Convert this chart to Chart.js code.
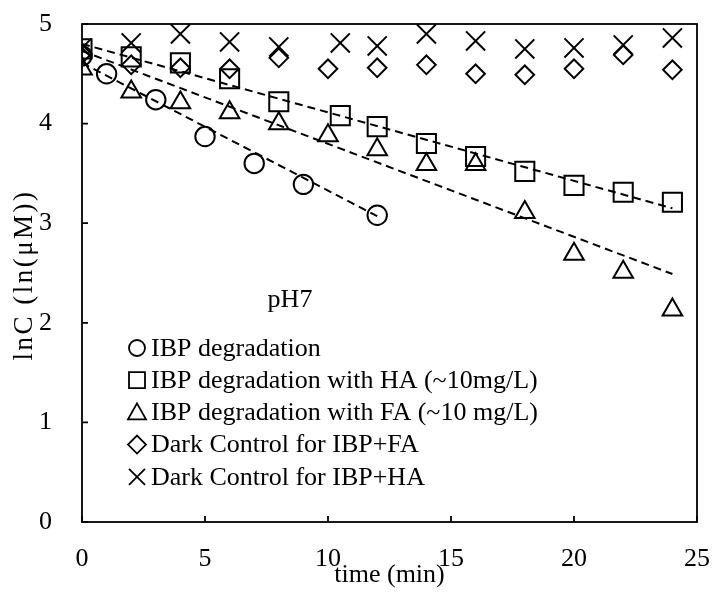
<!DOCTYPE html>
<html>
<head>
<meta charset="utf-8">
<script src="https://cdn.jsdelivr.net/npm/chart.js@4.4.1/dist/chart.umd.min.js"></script>
<style>
  html, body { margin: 0; padding: 0; background: #fff; }
  #wrap { width: 713px; height: 595px; }
</style>
</head>
<body>
<div id="wrap"><canvas id="chart"></canvas></div>
<script>
// values (time in min, lnC in ln(uM))
const ibpTime = [0, 1, 3, 5, 7, 9, 12];
const ibpLnC = [4.68, 4.50, 4.24, 3.87, 3.60, 3.39, 3.08];

const haTime = [0, 2, 4, 6, 8, 10.5, 12, 14, 16, 18, 20, 22, 24];
const haLnC = [4.75, 4.67, 4.61, 4.45, 4.22, 4.08, 3.97, 3.80, 3.67, 3.52, 3.38, 3.31, 3.21];

const faTime = [0, 2, 4, 6, 8, 10, 12, 14, 16, 18, 20, 22, 24];
const faLnC = [4.55, 4.32, 4.21, 4.11, 4.00, 3.88, 3.74, 3.59, 3.59, 3.11, 2.69, 2.51, 2.13];

const darkFaTime = [0, 2, 4, 6, 8, 10, 12, 14, 16, 18, 20, 22, 24];
const darkFaLnC = [4.70, 4.59, 4.56, 4.55, 4.66, 4.55, 4.56, 4.59, 4.50, 4.49, 4.55, 4.69, 4.54];

const darkHaTime = [0, 2, 4, 6, 8, 10.5, 12, 14, 16, 18, 20, 22, 24];
const darkHaLnC = [4.76, 4.81, 4.90, 4.82, 4.77, 4.81, 4.78, 4.90, 4.83, 4.75, 4.76, 4.79, 4.86];

// dashed linear trendlines (end points)
const fitIbpTime = [0, 12];
const fitIbpLnC = [4.61, 3.07];
const fitHaTime = [0, 24];
const fitHaLnC = [4.80, 3.15];
const fitFaTime = [0, 24];
const fitFaLnC = [4.73, 2.49];

const xTicks = [0, 5, 10, 15, 20, 25];
const yTicks = [0, 1, 2, 3, 4, 5];

const seriesLabels = [
  'IBP degradation',
  'IBP degradation with HA (~10mg/L)',
  'IBP degradation with FA (~10 mg/L)',
  'Dark Control for IBP+FA',
  'Dark Control for IBP+HA'
];
const noteText = 'pH7';
const yTitle = 'lnC (ln(μM))';

const FONT = '"Liberation Serif", "Times New Roman", serif';

function pts(xs, ys) {
  return xs.map((x, i) => ({ x: x, y: ys[i] }));
}

function markerSet(label, xs, ys, style, radius) {
  return {
    label: label,
    data: pts(xs, ys),
    showLine: false,
    pointStyle: style,
    pointRadius: radius,
    pointBorderColor: '#000',
    pointBackgroundColor: 'rgba(0,0,0,0)',
    pointBorderWidth: 2,
    isMarker: true
  };
}

function fitSet(xs, ys) {
  return {
    label: '',
    data: pts(xs, ys),
    showLine: true,
    borderColor: '#000',
    borderWidth: 2,
    borderDash: [8, 5],
    pointRadius: 0,
    fill: false
  };
}

const datasets = [
  fitSet(fitIbpTime, fitIbpLnC),
  fitSet(fitHaTime, fitHaLnC),
  fitSet(fitFaTime, fitFaLnC),
  markerSet(seriesLabels[0], ibpTime, ibpLnC, 'circle', 9.7),
  markerSet(seriesLabels[1], haTime, haLnC, 'rect', 13.5),
  markerSet(seriesLabels[2], faTime, faLnC, 'triangle', 11.3),
  markerSet(seriesLabels[3], darkFaTime, darkFaLnC, 'rectRot', 9.3),
  markerSet(seriesLabels[4], darkHaTime, darkHaLnC, 'crossRot', 13.5)
];

function drawLegendMarker(ctx, style, x, y) {
  ctx.beginPath();
  if (style === 'circle') {
    ctx.arc(x, y, 8, 0, Math.PI * 2);
  } else if (style === 'rect') {
    ctx.rect(x - 8, y - 8, 16, 16);
  } else if (style === 'triangle') {
    ctx.moveTo(x, y - 9);
    ctx.lineTo(x + 9, y + 7);
    ctx.lineTo(x - 9, y + 7);
    ctx.closePath();
  } else if (style === 'rectRot') {
    ctx.moveTo(x, y - 9);
    ctx.lineTo(x + 9, y);
    ctx.lineTo(x, y + 9);
    ctx.lineTo(x - 9, y);
    ctx.closePath();
  } else if (style === 'crossRot') {
    ctx.moveTo(x - 8, y - 8);
    ctx.lineTo(x + 8, y + 8);
    ctx.moveTo(x + 8, y - 8);
    ctx.lineTo(x - 8, y + 8);
  }
  ctx.stroke();
}

const framePlugin = {
  id: 'frame',
  afterDraw(chart) {
    const ctx = chart.ctx;
    const a = chart.chartArea;
    const xs = chart.scales.x;
    const ys = chart.scales.y;
    ctx.save();
    ctx.strokeStyle = '#000';
    ctx.lineWidth = 1.8;
    ctx.strokeRect(a.left, a.top, a.right - a.left, a.bottom - a.top);
    // inward tick marks
    ctx.beginPath();
    xTicks.forEach((t) => {
      const px = xs.getPixelForValue(t);
      ctx.moveTo(px, a.bottom);
      ctx.lineTo(px, a.bottom - 6);
    });
    yTicks.forEach((t) => {
      const py = ys.getPixelForValue(t);
      ctx.moveTo(a.left, py);
      ctx.lineTo(a.left + 6, py);
    });
    ctx.stroke();

    ctx.fillStyle = '#000';
    // y axis title, a little wider spaced like the original
    ctx.save();
    ctx.translate(25, (a.top + a.bottom) / 2 + 2);
    ctx.rotate(-Math.PI / 2);
    ctx.font = '27px ' + FONT;
    ctx.textAlign = 'center';
    ctx.textBaseline = 'middle';
    ctx.letterSpacing = '2.5px';
    ctx.fillText(yTitle, 0, 0);
    ctx.restore();

    // in-plot legend and note
    ctx.font = '26px ' + FONT;
    ctx.textBaseline = 'middle';
    ctx.textAlign = 'center';
    ctx.fillText(noteText, 290, 300);
    ctx.textAlign = 'left';
    ctx.lineWidth = 1.8;
    const markers = chart.data.datasets.filter((d) => d.isMarker);
    markers.forEach((d, i) => {
      const y = 348 + i * 32.2;
      drawLegendMarker(ctx, d.pointStyle, 137, y);
      ctx.fillText(d.label, 151, y + 1);
    });
    ctx.restore();
  }
};

new Chart(document.getElementById('chart'), {
  type: 'scatter',
  data: { datasets: datasets },
  options: {
    responsive: true,
    maintainAspectRatio: false,
    animation: false,
    layout: { autoPadding: false, padding: { top: 24, right: 16, left: 0, bottom: 0 } },
    plugins: {
      legend: { display: false },
      tooltip: { enabled: false }
    },
    scales: {
      x: {
        type: 'linear',
        min: 0,
        max: 25,
        afterBuildTicks: (s) => { s.ticks = xTicks.map((v) => ({ value: v })); },
        afterFit: (s) => { s.height = 73; s.paddingLeft = 0; s.paddingRight = 0; },
        grid: { display: false },
        border: { display: false },
        ticks: { color: '#000', font: { family: FONT, size: 26 }, padding: 14 },
        title: {
          display: true,
          text: 'time (min)',
          color: '#000',
          font: { family: FONT, size: 26 },
          padding: { top: 0, bottom: 4 }
        }
      },
      y: {
        type: 'linear',
        min: 0,
        max: 5,
        afterBuildTicks: (s) => { s.ticks = yTicks.map((v) => ({ value: v })); },
        afterFit: (s) => { s.width = 82; s.paddingTop = 0; s.paddingBottom = 0; },
        grid: { display: false },
        border: { display: false },
        ticks: { color: '#000', font: { family: FONT, size: 26 }, padding: 22 },
        title: { display: false }
      }
    }
  },
  plugins: [framePlugin]
});
</script>
</body>
</html>
